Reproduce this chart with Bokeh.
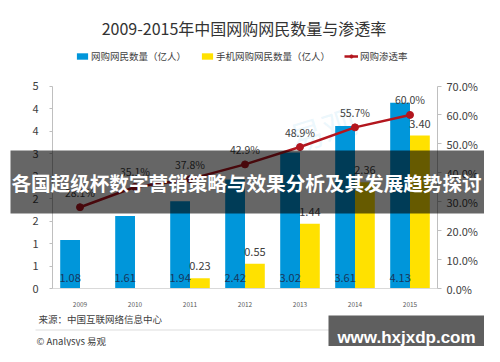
from bokeh.plotting import figure
from bokeh.models import (Range1d, LinearAxis, FixedTicker, NumeralTickFormatter,
                          Legend, LegendItem, Label, BoxAnnotation, ColumnDataSource)
from bokeh.transform import dodge
from bokeh.core.properties import value
from bokeh.embed import file_html
from bokeh.resources import INLINE

# ---------------- data ----------------
years = ["2009", "2010", "2011", "2012", "2013", "2014", "2015"]
total_users = [1.08, 1.61, 1.94, 2.42, 3.02, 3.61, 4.13]          # 网购网民数量（亿人）
mobile_years = ["2011", "2012", "2013", "2014", "2015"]
mobile_users = [0.23, 0.55, 1.44, 2.36, 3.40]                      # 手机网购网民数量（亿人）
penetration = [0.281, 0.351, 0.378, 0.429, 0.489, 0.557, 0.600]    # 网购渗透率
left_ticks = [0.0, 0.5, 1.0, 1.5, 2.0, 2.5, 3.0, 3.5, 4.0, 4.5]
left_tick_labels = ["0", "1", "1", "2", "2", "2", "3", "4", "4", "5"]
right_ticks = [0.0, 0.1, 0.2, 0.3, 0.4, 0.5, 0.6, 0.7]
title_text = "2009-2015年中国网购网民数量与渗透率"
legend_labels = ["网购网民数量（亿人）", "手机网购网民数量（亿人）", "网购渗透率"]
source_text = "来源：中国互联网络信息中心"
brand_text = "© Analysys 易观"
banner_text = "各国超级杯数字营销策略与效果分析及其发展趋势探讨"
site_text = "www.hxjxdp.com"
watermark_text = "易观"

# ---------------- layout / style ----------------
W, H = 484, 346
X0, DX = 79.5, 55.0          # pixel centre of first category, pixel step
Y0 = 288.0                   # pixel of zero line
PXU = 45.0                   # pixels per unit (left axis)
PXP = 202.5 / 0.7            # pixels per 100% (right axis)

CJK = "Noto Sans CJK SC"
BLUE = "#0096DA"
YELLOW = "#FFE100"
RED = "#B3161E"
TXT = "#404040"

idx = {y: i for i, y in enumerate(years)}
src_total = ColumnDataSource(dict(
    x=[idx[y] for y in years], users=total_users,
    label=[f"{v:.2f}" for v in total_users],
    pct=penetration,
    pct_label=[f"{v*100:.1f}%" for v in penetration],
))
src_mobile = ColumnDataSource(dict(
    x=[idx[y] for y in mobile_years], users=mobile_users,
    label=[f"{v:.2f}" for v in mobile_users],
))

n = len(years)
p = figure(x_range=Range1d(-X0 / DX, (W - X0) / DX),
           y_range=Range1d(-(H - Y0) / PXU, Y0 / PXU),
           width=W, height=H, output_backend="svg", toolbar_location=None,
           x_axis_location=None, y_axis_location=None,
           min_border=0, min_border_left=0, min_border_right=0,
           min_border_top=0, min_border_bottom=0)
p.extra_y_ranges = {"pct": Range1d(-(H - Y0) / PXP, Y0 / PXP)}
p.grid.visible = False
p.outline_line_color = None
p.background_fill_color = "white"
p.border_fill_color = "white"

# faint background watermark
p.add_layout(Label(x=322, y=128, x_units="canvas", y_units="canvas", text=watermark_text,
                   text_font=CJK, text_font_size="34px", text_color="#6EC0EE",
                   text_alpha=0.13, text_align="center", text_baseline="middle",
                   angle=0.3, level="underlay"))

blue = p.vbar(x=dodge("x", -0.18), top="users", width=0.36,
              source=src_total, fill_color=BLUE, line_color=None)
yellow = p.vbar(x=dodge("x", 0.18), top="users", width=0.36,
                source=src_mobile, fill_color=YELLOW, line_color=None)

p.text(x=dodge("x", -0.18), y=0, text="label", source=src_total,
       y_offset=-11, text_align="center", text_baseline="middle",
       text_font=value(CJK), text_font_size="11px", text_color="#17375E")
p.text(x=dodge("x", 0.18), y="users", text="label", source=src_mobile,
       y_offset=-12, text_align="center", text_baseline="middle",
       text_font=value(CJK), text_font_size="11px", text_color=TXT)

line = p.line(x="x", y="pct", source=src_total, y_range_name="pct",
              line_color=RED, line_width=2.5)
dots = p.scatter(x="x", y="pct", source=src_total, y_range_name="pct",
                 size=7, fill_color=RED, line_color=RED)
p.text(x="x", y="pct", text="pct_label", source=src_total, y_range_name="pct",
       y_offset=-15, text_align="center", text_baseline="middle",
       text_font=value(CJK), text_font_size="10.5px", text_color=TXT)

# axes (pinned inside the full-canvas frame)
ya = LinearAxis(fixed_location=-0.5, bounds=(left_ticks[0], left_ticks[-1]),
                ticker=FixedTicker(ticks=left_ticks))
ya.major_label_overrides = {t: l for t, l in zip(left_ticks, left_tick_labels)}
ya.axis_line_color = "#BFBFBF"
ya.major_tick_line_color = "#BFBFBF"
ya.major_tick_in = 0
ya.major_tick_out = 3
ya.minor_tick_line_color = None
ya.major_label_standoff = 11
ya.major_label_text_font = CJK
ya.major_label_text_font_size = "11px"
ya.major_label_text_color = TXT
p.add_layout(ya, "left")

ra = LinearAxis(y_range_name="pct", fixed_location=n - 0.5,
                bounds=(right_ticks[0], right_ticks[-1]),
                ticker=FixedTicker(ticks=right_ticks),
                formatter=NumeralTickFormatter(format="0.0%"))
ra.axis_line_color = "#BFBFBF"
ra.major_tick_line_color = "#BFBFBF"
ra.major_tick_in = 0
ra.major_tick_out = 4
ra.minor_tick_line_color = None
ra.major_label_standoff = 5
ra.major_label_text_font = CJK
ra.major_label_text_font_size = "11px"
ra.major_label_text_color = TXT
p.add_layout(ra, "right")

xa = LinearAxis(fixed_location=0, bounds=(-0.5, n - 0.5),
                ticker=FixedTicker(ticks=list(range(n))))
xa.major_label_overrides = {i: y for i, y in enumerate(years)}
xa.axis_line_color = "#D9D9D9"
xa.major_tick_line_color = None
xa.minor_tick_line_color = None
xa.major_label_standoff = 7
xa.major_label_text_font = CJK
xa.major_label_text_font_size = "6.5px"
xa.major_label_text_color = "#595959"
p.add_layout(xa, "below")

legend = Legend(items=[
    LegendItem(label=legend_labels[0], renderers=[blue]),
    LegendItem(label=legend_labels[1], renderers=[yellow]),
    LegendItem(label=legend_labels[2], renderers=[line, dots]),
], location=(75, 283), orientation="horizontal", padding=0, margin=0, spacing=14,
    label_standoff=2, glyph_width=14, glyph_height=8, label_height=10,
    label_text_font=CJK, label_text_font_size="9.5px", label_text_color=TXT,
    border_line_color=None, background_fill_alpha=0)
p.add_layout(legend)

# decorations (canvas units)
def canvas_label(x, y, text, size, color, align="left", bold=False, font=CJK):
    lab = Label(x=x, y=y, x_units="canvas", y_units="canvas", text=text,
                text_font=font, text_font_size=size, text_color=color,
                text_align=align, text_baseline="middle",
                text_font_style="bold" if bold else "normal")
    p.add_layout(lab)
    return lab

def canvas_box(left, right, top, bottom, color, alpha):
    p.add_layout(BoxAnnotation(left=left, right=right, top=top, bottom=bottom,
                               left_units="canvas", right_units="canvas",
                               top_units="canvas", bottom_units="canvas",
                               fill_color=color, fill_alpha=alpha, line_color=None))

canvas_label(243.5, 27, title_text, "16px", "#333333", align="center")
canvas_label(38, 318, source_text, "9.5px", TXT)
canvas_label(36, 340, brand_text, "9.5px", TXT)
canvas_box(35, 470, 329, 330, "#DDDDDD", 1)

canvas_box(10, 490, 150, 213, "black", 0.6)
canvas_label(246, 181.5, banner_text, "19.6px", "white", align="center", bold=True)

canvas_box(328, 491, 315, 353, "#5F5F5F", 1)
canvas_label(406, 337, site_text, "17px", "white", align="center", bold=True,
             font="Liberation Sans")

open("out.html", "w").write(file_html(p, INLINE))
